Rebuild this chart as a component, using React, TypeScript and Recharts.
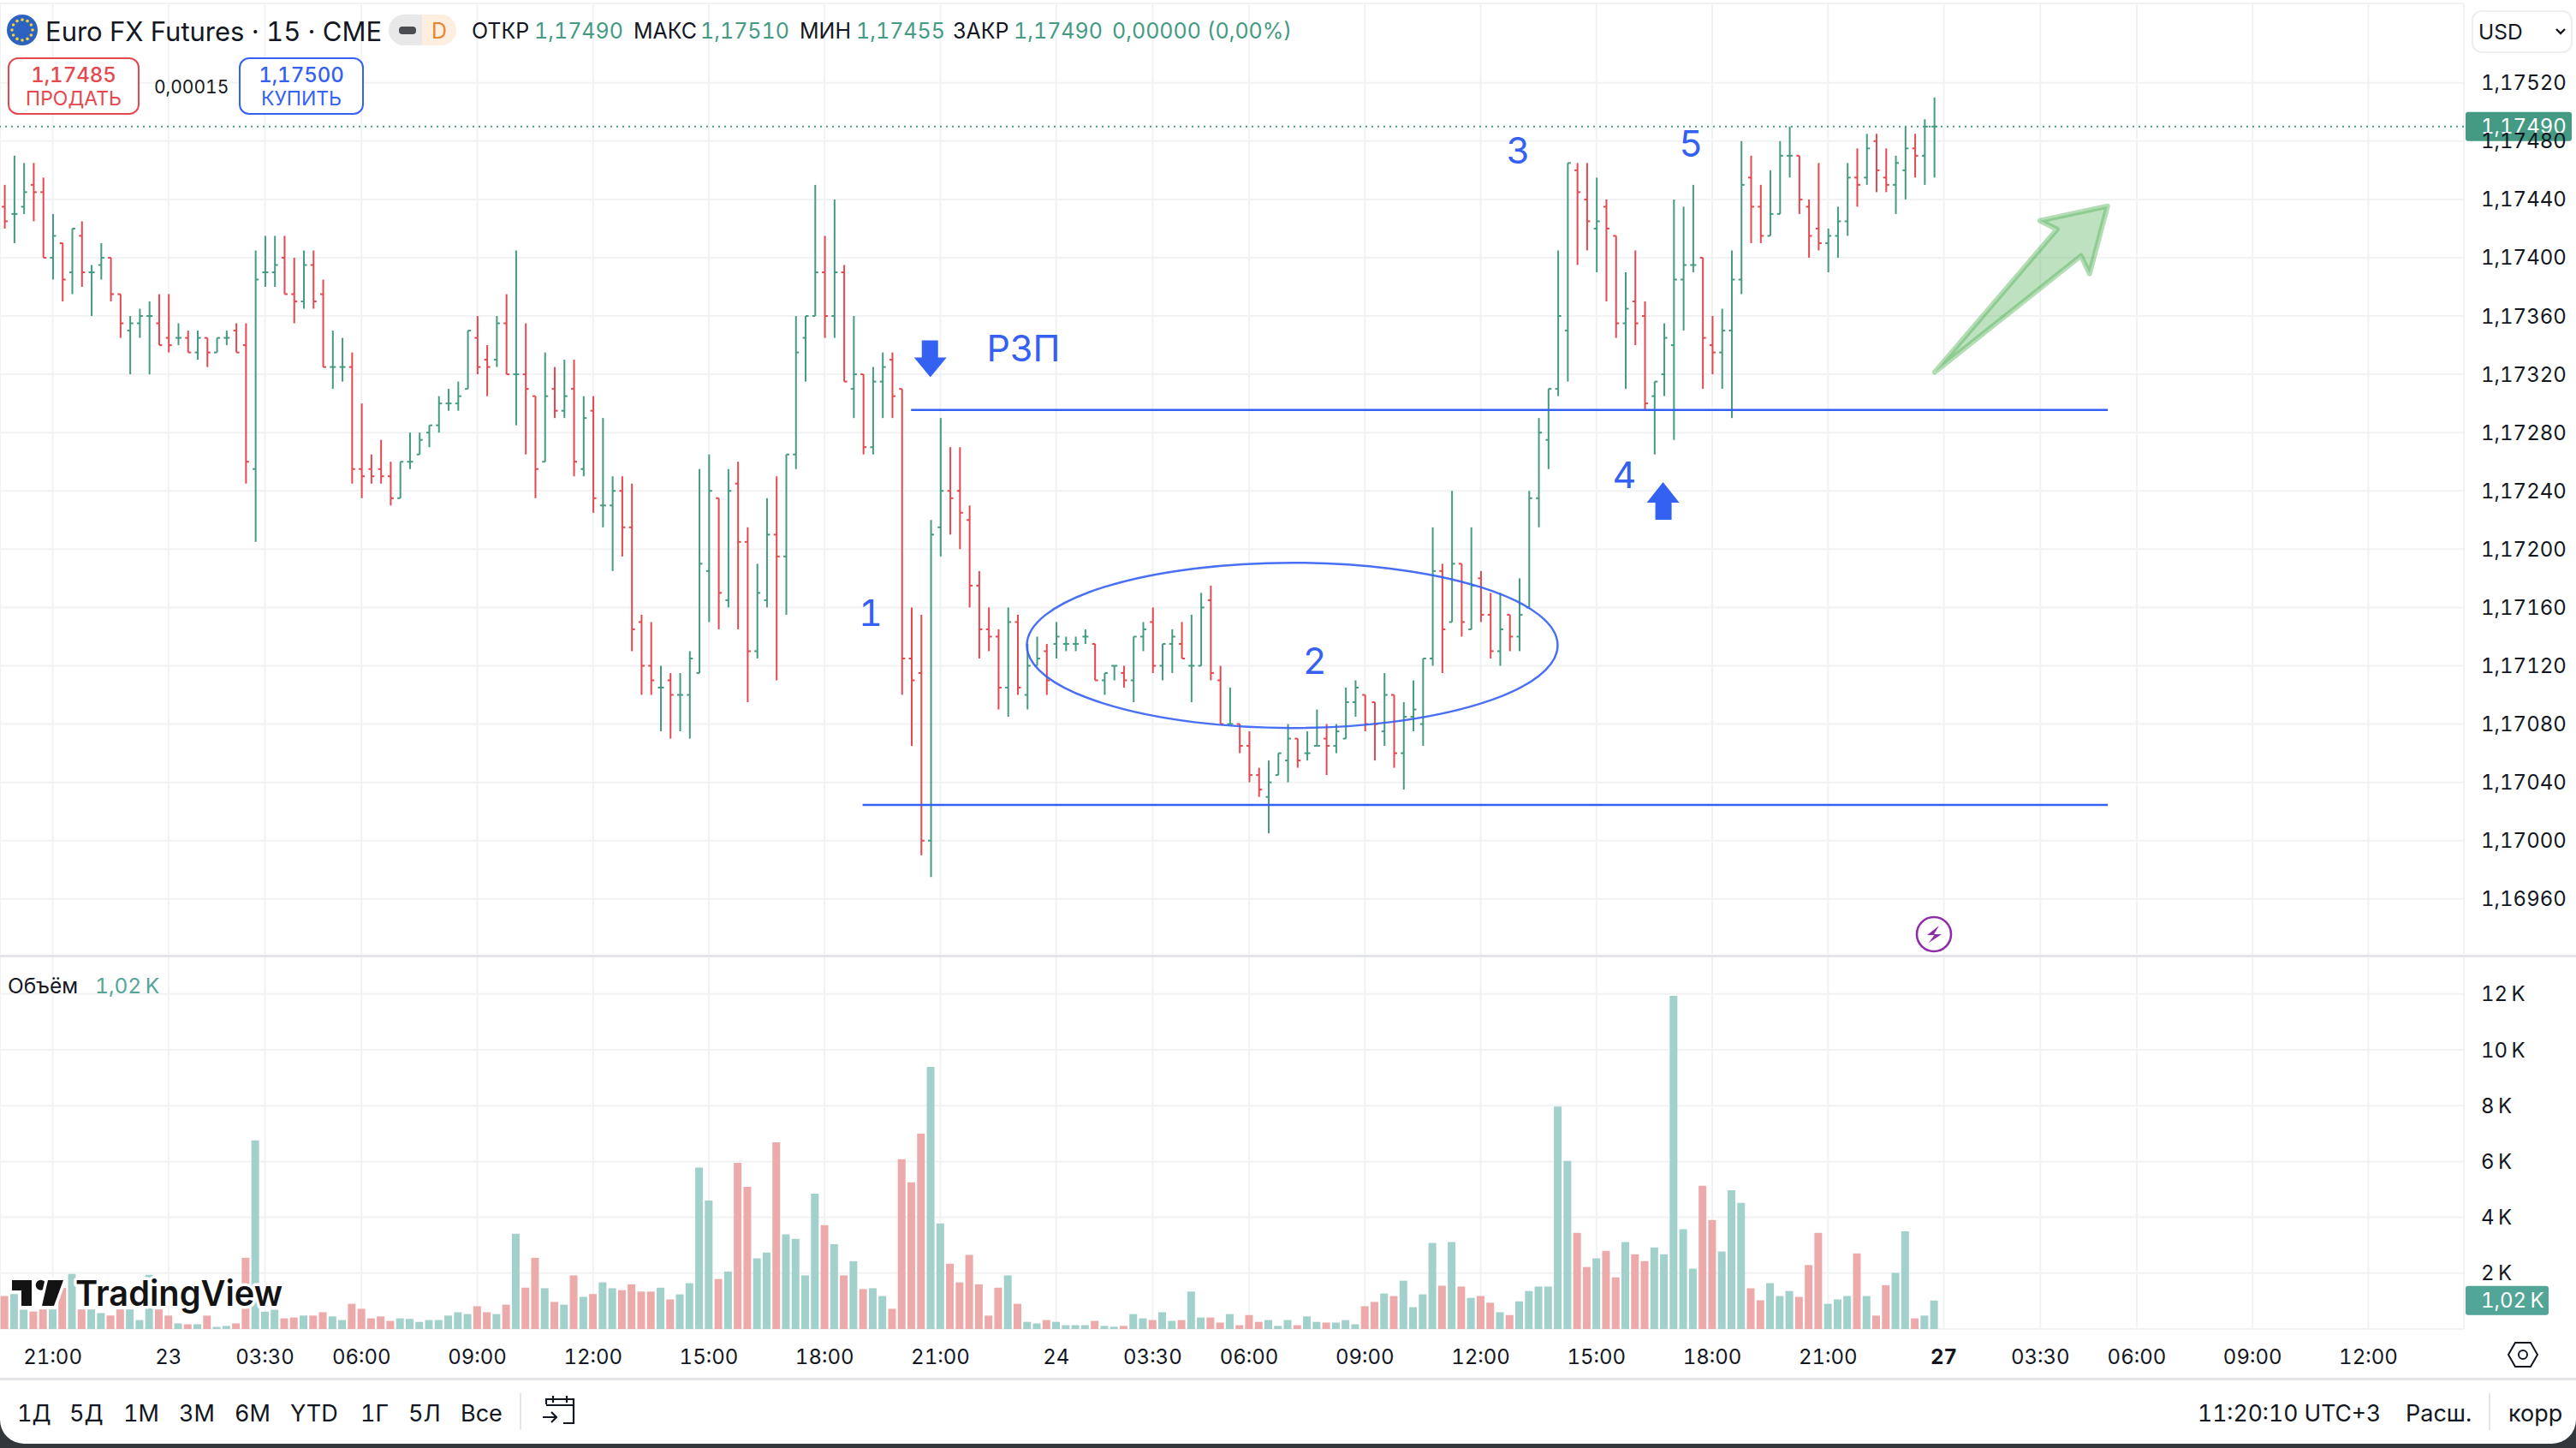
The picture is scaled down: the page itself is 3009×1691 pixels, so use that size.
import { Bar, CartesianGrid, Cell, ComposedChart, ReferenceDot, ReferenceLine, XAxis, YAxis } from "recharts";

// prices are stored as the digits after "1," so 17490 reads 1,17490
const highs = [
  17450, 17470, 17465, 17465, 17455, 17430, 17410, 17420, 17425, 17395, 17410, 17400, 17375, 17360, 17365, 17370, 17375, 17375, 17355, 17350,
  17350, 17345, 17345, 17350, 17355, 17355, 17405, 17415, 17415, 17415, 17400, 17405, 17405, 17385, 17350, 17345, 17335, 17300, 17265, 17275,
  17260, 17260, 17280, 17280, 17285, 17305, 17310, 17315, 17350, 17360, 17340, 17360, 17375, 17405, 17355, 17305, 17335, 17325, 17330, 17330,
  17305, 17305, 17290, 17250, 17250, 17245, 17155, 17150, 17120, 17115, 17115, 17130, 17255, 17265, 17235, 17255, 17260, 17215, 17190, 17235,
  17250, 17265, 17360, 17360, 17450, 17415, 17440, 17395, 17360, 17320, 17325, 17335, 17335, 17310, 17160, 17155, 17220, 17290, 17270, 17270,
  17230, 17185, 17160, 17145, 17160, 17155, 17135, 17140, 17135, 17150, 17140, 17140, 17145, 17135, 17115, 17120, 17120, 17140, 17150, 17160,
  17135, 17145, 17150, 17155, 17170, 17175, 17120, 17105, 17080, 17075, 17050, 17055, 17060, 17080, 17070, 17075, 17090, 17080, 17080, 17105,
  17110, 17100, 17095, 17115, 17100, 17095, 17110, 17125, 17215, 17190, 17240, 17190, 17215, 17185, 17170, 17170, 17155, 17180, 17240, 17290,
  17310, 17405, 17465, 17465, 17465, 17455, 17440, 17415, 17390, 17405, 17370, 17315, 17355, 17440, 17435, 17450, 17400, 17360, 17365, 17405,
  17480, 17470, 17450, 17460, 17480, 17490, 17470, 17440, 17465, 17420, 17435, 17465, 17475, 17485, 17485, 17475, 17470, 17490, 17485, 17495,
  17510,
];
const lows = [
  17420, 17410, 17430, 17425, 17400, 17385, 17370, 17375, 17380, 17360, 17385, 17370, 17345, 17320, 17345, 17320, 17340, 17335, 17340, 17335,
  17330, 17325, 17335, 17340, 17335, 17245, 17205, 17380, 17380, 17375, 17355, 17365, 17365, 17325, 17310, 17315, 17245, 17235, 17245, 17245,
  17230, 17235, 17255, 17265, 17270, 17280, 17295, 17295, 17310, 17320, 17305, 17325, 17320, 17285, 17265, 17235, 17260, 17290, 17290, 17250,
  17250, 17225, 17215, 17185, 17195, 17130, 17100, 17100, 17075, 17070, 17075, 17070, 17115, 17150, 17145, 17160, 17145, 17095, 17125, 17160,
  17110, 17155, 17255, 17315, 17360, 17345, 17345, 17315, 17290, 17265, 17265, 17290, 17290, 17100, 17065, 16990, 16975, 17195, 17210, 17200,
  17160, 17125, 17130, 17090, 17085, 17100, 17090, 17120, 17100, 17125, 17130, 17130, 17135, 17110, 17100, 17110, 17105, 17095, 17130, 17115,
  17110, 17115, 17125, 17095, 17120, 17110, 17080, 17080, 17060, 17040, 17030, 17005, 17045, 17040, 17050, 17055, 17065, 17045, 17060, 17070,
  17085, 17075, 17055, 17065, 17050, 17035, 17075, 17065, 17120, 17115, 17150, 17140, 17145, 17150, 17125, 17120, 17130, 17130, 17160, 17215,
  17255, 17305, 17315, 17395, 17405, 17390, 17370, 17345, 17310, 17340, 17295, 17265, 17305, 17275, 17350, 17390, 17310, 17320, 17310, 17290,
  17375, 17410, 17410, 17415, 17430, 17455, 17430, 17400, 17405, 17390, 17400, 17415, 17435, 17450, 17445, 17445, 17430, 17440, 17455, 17450,
  17455,
];
const opens = [
  17435, 17430, 17435, 17450, 17445, 17400, 17410, 17390, 17415, 17390, 17395, 17400, 17375, 17350, 17355, 17360, 17355, 17345, 17345, 17345,
  17335, 17345, 17335, 17345, 17350, 17340, 17255, 17390, 17390, 17400, 17375, 17370, 17395, 17375, 17325, 17325, 17325, 17255, 17255, 17255,
  17250, 17235, 17260, 17265, 17280, 17285, 17300, 17300, 17310, 17345, 17330, 17330, 17355, 17320, 17320, 17305, 17260, 17310, 17295, 17310,
  17255, 17295, 17230, 17230, 17240, 17215, 17150, 17120, 17105, 17110, 17100, 17100, 17115, 17185, 17235, 17165, 17245, 17205, 17130, 17165,
  17210, 17195, 17265, 17345, 17360, 17390, 17360, 17390, 17310, 17320, 17270, 17315, 17330, 17310, 17125, 17115, 17000, 17215, 17240, 17240,
  17220, 17175, 17145, 17140, 17105, 17150, 17100, 17120, 17130, 17135, 17135, 17135, 17140, 17135, 17110, 17120, 17115, 17110, 17140, 17150,
  17120, 17135, 17135, 17120, 17120, 17165, 17110, 17080, 17080, 17065, 17045, 17030, 17045, 17055, 17070, 17060, 17065, 17070, 17065, 17070,
  17095, 17100, 17095, 17075, 17100, 17060, 17085, 17080, 17125, 17185, 17150, 17190, 17145, 17180, 17155, 17130, 17155, 17140, 17160, 17235,
  17275, 17310, 17350, 17460, 17440, 17420, 17435, 17415, 17355, 17370, 17360, 17305, 17320, 17340, 17385, 17395, 17400, 17340, 17335, 17350,
  17385, 17455, 17435, 17415, 17430, 17470, 17470, 17435, 17420, 17410, 17415, 17425, 17455, 17455, 17480, 17455, 17450, 17460, 17475, 17470,
  17490,
];
const closes = [
  17425, 17430, 17445, 17445, 17400, 17415, 17385, 17420, 17390, 17390, 17400, 17375, 17355, 17355, 17360, 17360, 17340, 17340, 17345, 17335,
  17345, 17335, 17345, 17345, 17335, 17260, 17385, 17390, 17395, 17375, 17370, 17395, 17370, 17325, 17325, 17325, 17255, 17250, 17250, 17250,
  17235, 17260, 17260, 17275, 17285, 17300, 17300, 17305, 17350, 17325, 17325, 17355, 17320, 17320, 17310, 17255, 17305, 17295, 17305, 17260,
  17290, 17235, 17230, 17240, 17215, 17145, 17120, 17110, 17105, 17100, 17100, 17125, 17190, 17240, 17170, 17240, 17205, 17130, 17170, 17210,
  17195, 17265, 17335, 17360, 17390, 17360, 17390, 17315, 17320, 17270, 17315, 17325, 17305, 17125, 17110, 17000, 17210, 17240, 17235, 17225,
  17175, 17145, 17140, 17105, 17150, 17105, 17120, 17125, 17110, 17140, 17135, 17135, 17140, 17110, 17115, 17120, 17110, 17140, 17145, 17120,
  17135, 17140, 17125, 17120, 17160, 17115, 17080, 17080, 17065, 17045, 17035, 17040, 17060, 17070, 17055, 17060, 17065, 17065, 17075, 17095,
  17105, 17080, 17080, 17100, 17060, 17085, 17090, 17125, 17185, 17145, 17190, 17150, 17175, 17155, 17130, 17145, 17140, 17155, 17235, 17280,
  17310, 17360, 17465, 17445, 17425, 17425, 17420, 17355, 17365, 17355, 17300, 17315, 17345, 17385, 17395, 17395, 17345, 17335, 17350, 17385,
  17450, 17435, 17415, 17430, 17470, 17470, 17440, 17415, 17410, 17415, 17425, 17455, 17450, 17475, 17460, 17450, 17465, 17475, 17470, 17490,
  17490,
];
const volumes = [
  1180, 1250, 690, 625, 700, 700, 1470, 1970, 700, 700, 570, 480, 700, 700, 320, 1940, 700, 480, 200, 170,
  170, 480, 80, 110, 200, 2550, 6760, 620, 690, 380, 410, 480, 480, 600, 450, 320, 900, 725, 380, 450,
  290, 380, 360, 255, 320, 320, 480, 600, 535, 815, 600, 535, 870, 3410, 1480, 2550, 1460, 970, 870, 1920,
  1150, 1250, 1670, 1460, 1390, 1600, 1340, 1340, 1480, 1060, 1240, 1640, 5780, 4600, 1790, 2060, 5950, 5090, 2530, 2740,
  6690, 3390, 3230, 1920, 4850, 3720, 3040, 1920, 2430, 1430, 1460, 1180, 725, 6080, 5250, 7000, 9390, 3780, 2340, 1670,
  2650, 1600, 480, 1480, 1920, 900, 255, 200, 320, 255, 135, 135, 135, 290, 110, 80, 110, 535, 380, 320,
  600, 290, 320, 1340, 410, 410, 230, 535, 135, 500, 255, 320, 110, 320, 135, 450, 255, 230, 230, 320,
  170, 815, 970, 1270, 1180, 1730, 780, 1240, 3080, 1550, 3110, 1520, 1115, 1180, 940, 600, 500, 990, 1360, 1520,
  1520, 7970, 6020, 3445, 2220, 2530, 2800, 1850, 3110, 2680, 2430, 2920, 2680, 11930, 3570, 2160, 5130, 3900, 2780, 4970,
  4520, 1460, 1030, 1640, 1180, 1360, 1150, 2290, 3445, 900, 1060, 1180, 2710, 1180, 480, 1570, 2010, 3500, 380, 480,
  1020,
];

const xTicks = [5, 17, 27, 37, 49, 61, 73, 85, 97, 109, 119, 129, 141, 153, 165, 177, 189, 201, 211, 221, 233, 245];
const xLabels = ["21:00", "23", "03:30", "06:00", "09:00", "12:00", "15:00", "18:00", "21:00", "24", "03:30", "06:00", "09:00", "12:00", "15:00", "18:00", "21:00", "27", "03:30", "06:00", "09:00", "12:00"];
const priceTicks = [16960, 17000, 17040, 17080, 17120, 17160, 17200, 17240, 17280, 17320, 17360, 17400, 17440, 17480, 17520];
const volumeTicks = [2000, 4000, 6000, 8000, 10000, 12000];
const rangeButtons = [["1Д", 20], ["5Д", 81], ["1М", 144], ["3М", 209], ["6М", 274], ["YTD", 339], ["1Г", 421], ["5Л", 477], ["Все", 538]] as const;

const waveLabels = [
  { text: "1", i: 89.77, price: 17157 },
  { text: "2", i: 135.8, price: 17124 },
  { text: "3", i: 156.9, price: 17474 },
  { text: "4", i: 167.9, price: 17251.5 },
  { text: "5", i: 174.8, price: 17479 },
  { text: "РЗП", i: 105.6, price: 17338 },
];

const lastPrice = 17490;
const lastVolume = 1020;

const table = highs.map((high, i) => ({
  i,
  range: [lows[i], high],
  open: opens[i],
  high,
  low: lows[i],
  close: closes[i],
  volume: volumes[i],
}));

const FONT = "Inter, sans-serif";
const INK = "#131722";
const UP = "#459a83";
const DOWN = "#e5484f";
const BLUE = "#3561f3";
const GRID = "#f1f2f4";
const SEP = "#e3e5ea";
const X_DOMAIN = [-0.466, 254.9];

const fmtPrice = (v: number) => `1,${v}`;
const fmtVolume = (v: number) => `${String(v / 1000).replace(".", ",")}\u202fK`;

function OhlcBar(props: any) {
  const { x, y, width, height, payload } = props;
  const cx = x + width / 2;
  const perUnit = height / (payload.high - payload.low);
  const openY = y + (payload.high - payload.open) * perUnit;
  const closeY = y + (payload.high - payload.close) * perUnit;
  const color = payload.close >= payload.open ? UP : DOWN;
  return (
    <g stroke={color} strokeWidth={2}>
      <line x1={cx} x2={cx} y1={y} y2={y + height} />
      <line x1={cx - 3.5} x2={cx} y1={openY} y2={openY} />
      <line x1={cx} x2={cx + 3.5} y1={closeY} y2={closeY} />
    </g>
  );
}

function XTick({ x, y, payload }: any) {
  const label = xLabels[xTicks.indexOf(payload.value)];
  return (
    <text x={x} y={y + 30} textAnchor="middle" dominantBaseline="central" fontFamily={FONT} fontSize={24} fill={INK} fontWeight={label === "27" ? 700 : 400}>
      {label}
    </text>
  );
}

const tag = (text: string, fill: string, width: number, height: number) => (props: any) => {
  const { x, y, width: w } = props.viewBox;
  const left = x + w + 2;
  return (
    <g>
      <rect x={left} y={y - height / 2} width={width} height={height} rx={3} fill={fill} />
      <text x={left + 18} y={y} dominantBaseline="central" fontFamily={FONT} fontSize={24} fill="#fff">
        {text}
      </text>
    </g>
  );
};

const arrowDown = (p: any) => (
  <polygon fill={BLUE} transform={`translate(${p.cx} ${p.cy})`} points="0,0 -19,-23 -10,-23 -10,-43 9,-43 9,-23 19,-23" />
);
const arrowUp = (p: any) => (
  <polygon fill={BLUE} transform={`translate(${p.cx} ${p.cy})`} points="0,0 19,24 10,24 10,44 -9,44 -9,24 -19,24" />
);
const bigArrow = (p: any) => (
  <polygon
    transform={`translate(${p.cx} ${p.cy})`}
    points="-202,194 -59,27 -79,17 0,0 -21,79 -31,58"
    fill="#4cae50"
    fillOpacity={0.36}
    stroke="#4cae50"
    strokeOpacity={0.42}
    strokeWidth={6}
    strokeLinejoin="round"
  />
);
const zoneEllipse = (p: any) => <ellipse cx={p.cx} cy={p.cy} rx={310} ry={96.5} fill="none" stroke={BLUE} strokeOpacity={0.9} strokeWidth={2.5} />;
const waveText = (text: string) => (p: any) => (
  <text x={p.cx} y={p.cy} textAnchor="middle" dominantBaseline="central" fontFamily={FONT} fontSize={43} fill={BLUE}>
    {text}
  </text>
);

function Label({ x, y, size = 26, color = INK, weight = 400, anchor = "left", children }: any) {
  const tx = anchor === "center" ? "-50%" : "0";
  return (
    <div style={{ position: "absolute", left: x, top: y, transform: `translate(${tx}, -50%)`, fontFamily: FONT, fontSize: size, color, fontWeight: weight, whiteSpace: "nowrap", lineHeight: 1 }}>
      {children}
    </div>
  );
}

const Box = ({ x, y, w, h, style }: any) => <div style={{ position: "absolute", left: x, top: y, width: w, height: h, boxSizing: "border-box", ...style }} />;

const flagStars = [0, 30, 60, 90, 120, 150, 180, 210, 240, 270, 300, 330];

export default function App() {
  return (
    <div style={{ position: "absolute", left: 0, top: 0, width: 3009, height: 1691, background: "#33373b", overflow: "hidden", fontVariantNumeric: "tabular-nums" }}>
      <div style={{ position: "absolute", left: 0, top: 0, width: 3009, height: 1686, background: "#fff", borderRadius: "0 0 28px 28px", overflow: "hidden" }}>
        <div style={{ position: "absolute", left: 0, top: 0 }}>
          <ComposedChart width={3009} height={1117} data={table} margin={{ top: 4, right: 0, bottom: 0, left: 0 }}>
            <CartesianGrid stroke={GRID} strokeWidth={2} />
            <XAxis type="number" dataKey="i" domain={X_DOMAIN} ticks={xTicks} hide allowDataOverflow />
            <YAxis
              orientation="right"
              width={131}
              domain={[16920.5, 17574.5]}
              ticks={priceTicks}
              interval={0}
              tickFormatter={fmtPrice}
              axisLine={false}
              tickLine={false}
              tickSize={0}
              tickMargin={20}
              tick={{ fontFamily: FONT, fontSize: 24, fill: INK }}
              allowDataOverflow
            />
            <Bar dataKey="range" barSize={6} shape={OhlcBar} isAnimationActive={false} />
            <ReferenceLine y={lastPrice} stroke={UP} strokeWidth={2} strokeDasharray="2 5" label={tag(fmtPrice(lastPrice), "#459a83", 124, 34)} />
            <ReferenceLine segment={[{ x: 93.96, y: 17295.5 }, { x: 218, y: 17295.5 }]} stroke={BLUE} strokeWidth={2.5} />
            <ReferenceLine segment={[{ x: 88.94, y: 17024.5 }, { x: 218, y: 17024.5 }]} stroke={BLUE} strokeWidth={2.5} />
            <ReferenceDot x={133.47} y={17134} shape={zoneEllipse} />
            <ReferenceDot x={95.96} y={17318} shape={arrowDown} />
            <ReferenceDot x={171.9} y={17246} shape={arrowUp} />
            <ReferenceDot x={217.97} y={17435.4} shape={bigArrow} />
            {waveLabels.map((w) => (
              <ReferenceDot key={w.text} x={w.i} y={w.price} shape={waveText(w.text)} />
            ))}
          </ComposedChart>
        </div>
        <div style={{ position: "absolute", left: 0, top: 1117 }}>
          <ComposedChart width={3009} height={493} data={table} margin={{ top: 0, right: 0, bottom: 0, left: 0 }}>
            <CartesianGrid stroke={GRID} strokeWidth={2} />
            <XAxis type="number" dataKey="i" domain={X_DOMAIN} ticks={xTicks} interval={0} height={58} axisLine={false} tickLine={false} tickSize={0} tick={XTick} allowDataOverflow />
            <YAxis
              orientation="right"
              width={131}
              domain={[0, 13344]}
              ticks={volumeTicks}
              interval={0}
              tickFormatter={fmtVolume}
              axisLine={false}
              tickLine={false}
              tickSize={0}
              tickMargin={20}
              tick={{ fontFamily: FONT, fontSize: 24, fill: INK }}
              allowDataOverflow
            />
            <Bar dataKey="volume" barSize={9} isAnimationActive={false}>
              {table.map((d) => (
                <Cell key={d.i} fill={d.close >= d.open ? "#a2d0cb" : "#ecaaaa"} />
              ))}
            </Bar>
            <ReferenceLine y={lastVolume} stroke="none" label={tag(fmtVolume(lastVolume), "#52a597", 97, 34)} />
          </ComposedChart>
        </div>

        {/* separators */}
        <Box x={0} y={1115} w={3009} h={3} style={{ background: SEP }} />
        <Box x={0} y={1609} w={3009} h={3} style={{ background: SEP }} />
        <Box x={607} y={1627} w={2} h={43} style={{ background: SEP }} />
        <Box x={2907} y={1627} w={2} h={43} style={{ background: SEP }} />

        {/* legend row */}
        <svg style={{ position: "absolute", left: 8, top: 17 }} width={36} height={36}>
          <circle cx={18} cy={18} r={18} fill="#2d62c0" />
          {flagStars.map((a) => (
            <circle key={a} cx={18 + 12 * Math.cos((a * Math.PI) / 180)} cy={18 + 12 * Math.sin((a * Math.PI) / 180)} r={1.8} fill="#f7d23c" />
          ))}
        </svg>
        <Label x={53} y={36} size={31}>Euro FX Futures · 15 · CME</Label>
        <Box x={454} y={17} w={79} h={36} style={{ borderRadius: 18, background: "linear-gradient(90deg, #e8e8e9 50%, #fdeee0 50%)" }} />
        <Box x={466} y={31} w={20} h={9} style={{ borderRadius: 4, background: "#4a4c50" }} />
        <Label x={504} y={36} size={25} color="#e8862e">D</Label>
        <Label x={551} y={36} size={25}>ОТКР</Label>
        <Label x={624} y={36} size={25} color={UP}>1,17490</Label>
        <Label x={740} y={36} size={25}>МАКС</Label>
        <Label x={818} y={36} size={25} color={UP}>1,17510</Label>
        <Label x={934} y={36} size={25}>МИН</Label>
        <Label x={1000} y={36} size={25} color={UP}>1,17455</Label>
        <Label x={1113} y={36} size={25}>ЗАКР</Label>
        <Label x={1184} y={36} size={25} color={UP}>1,17490</Label>
        <Label x={1299} y={36} size={25} color={UP}>0,00000 (0,00%)</Label>

        {/* order buttons */}
        <Box x={9} y={67} w={154} h={67} style={{ border: `2.5px solid ${DOWN}`, borderRadius: 12, background: "#fff" }} />
        <Label x={86} y={88} size={24} color={DOWN} weight={500} anchor="center">1,17485</Label>
        <Label x={86} y={115} size={23} color={DOWN} anchor="center">ПРОДАТЬ</Label>
        <Label x={180} y={101} size={21}>0,00015</Label>
        <Box x={279} y={67} w={146} h={67} style={{ border: `2.5px solid ${BLUE}`, borderRadius: 12, background: "#fff" }} />
        <Label x={352} y={88} size={24} color={BLUE} weight={500} anchor="center">1,17500</Label>
        <Label x={352} y={115} size={23} color={BLUE} anchor="center">КУПИТЬ</Label>

        {/* currency selector */}
        <Box x={2887} y={12} w={118} h={50} style={{ border: "2px solid #eceef1", borderRadius: 12, background: "#fff" }} />
        <Label x={2895} y={37} size={24.5}>USD</Label>
        <svg style={{ position: "absolute", left: 2983, top: 32 }} width={16} height={10}>
          <path d="M3 2 L8 7 L13 2" fill="none" stroke={INK} strokeWidth={2.4} />
        </svg>

        {/* volume legend */}
        <Label x={9} y={1151} size={24.5}>Объём</Label>
        <Label x={111} y={1151} size={24.5} color="#52a597">1,02{"\u202f"}K</Label>

        {/* watermark */}
        <svg style={{ position: "absolute", left: 0, top: 1480 }} width={350} height={70}>
          <g stroke="#fff" strokeWidth={7} paintOrder="stroke" strokeLinejoin="round">
            <path d="M14 15 H37 V45 H25 V27 H14 Z" fill="#131313" />
            <circle cx={47.7} cy={20.7} r={6} fill="#131313" />
            <path d="M56 15 H74 L63 45 H49 Z" fill="#131313" />
            <text x={88} y={45} fontFamily={FONT} fontSize={41} fontWeight={600} textLength={242} lengthAdjust="spacingAndGlyphs" fill="#131313">TradingView</text>
          </g>
        </svg>

        {/* session marker */}
        <svg style={{ position: "absolute", left: 2236, top: 1068 }} width={46} height={46}>
          <circle cx={23} cy={23} r={20} fill="#fff" stroke="#8e2da8" strokeWidth={2.6} />
          <path d="M29 13 L15 24 H23.5 L17 33 L32 23 H23 Z" fill="#8e2da8" />
        </svg>

        {/* time axis settings */}
        <svg style={{ position: "absolute", left: 2928, top: 1564 }} width={38} height={36}>
          <path d="M10 4 H28 L36 18 L28 32 H10 L2 18 Z" fill="none" stroke={INK} strokeWidth={2} />
          <circle cx={19} cy={18} r={5} fill="none" stroke={INK} strokeWidth={2} />
        </svg>

        {/* bottom toolbar */}
        {rangeButtons.map(([text, x]) => (
          <Label key={text} x={x} y={1650} size={27}>{text}</Label>
        ))}
        <svg style={{ position: "absolute", left: 632, top: 1628 }} width={42} height={38}>
          <path d="M6 12 V6 H38 V34 H26 M6 13 H38 M14 2 V10 M30 2 V10 M2 27 H18 M12 21 L18 27 L12 33" fill="none" stroke={INK} strokeWidth={2.2} />
        </svg>
        <Label x={2567} y={1650} size={26.5}>11:20:10 UTC+3</Label>
        <Label x={2810} y={1650} size={27}>Расш.</Label>
        <Label x={2930} y={1650} size={27}>корр</Label>
      </div>
    </div>
  );
}
